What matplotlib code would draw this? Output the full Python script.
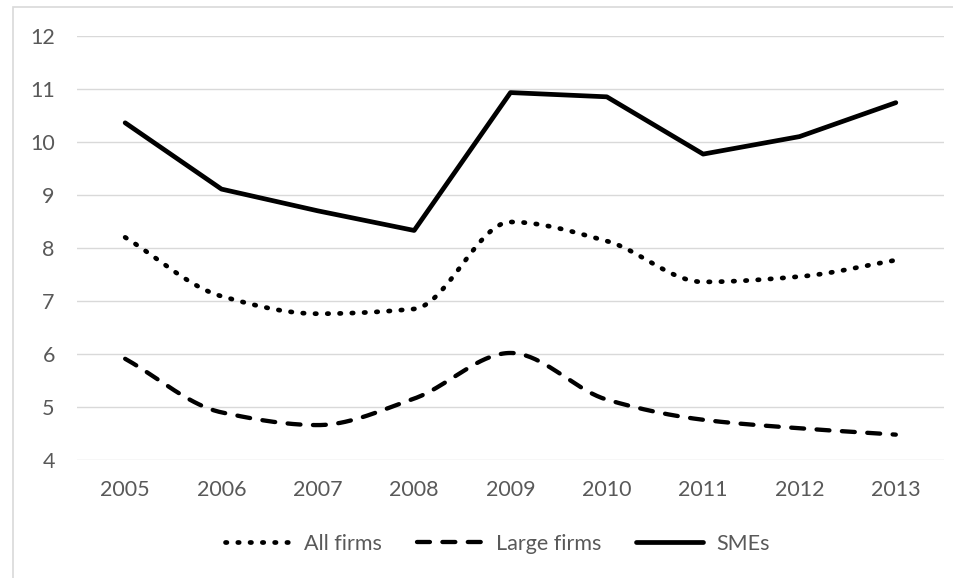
import numpy as np
import matplotlib.pyplot as plt
from matplotlib.patches import Rectangle

years = ['2005', '2006', '2007', '2008', '2009', '2010', '2011', '2012', '2013']
all_firms = [8.20, 7.09, 6.76, 6.85, 8.49, 8.13, 7.36, 7.46, 7.77]
large_firms = [5.91, 4.90, 4.66, 5.16, 6.02, 5.14, 4.76, 4.60, 4.48]
smes = [10.36, 9.11, 8.70, 8.33, 10.93, 10.85, 9.77, 10.10, 10.74]

plt.rcParams['font.family'] = ['Lato', 'DejaVu Sans']
grey = '#595959'


def smooth(y, n=40):
    """Smoothed line through the points (monotone cubic Hermite)."""
    y = np.asarray(y, dtype=float)
    x = np.arange(len(y), dtype=float)
    d = np.diff(y)
    m = np.zeros_like(y)
    for i in range(1, len(y) - 1):
        if d[i - 1] * d[i] > 0:
            m[i] = 2 / (1 / d[i - 1] + 1 / d[i])
    m[0] = d[0]
    m[-1] = d[-1]
    t = np.linspace(0, 1, n)
    xs, ys = [], []
    for i in range(len(y) - 1):
        h00 = 2 * t ** 3 - 3 * t ** 2 + 1
        h10 = t ** 3 - 2 * t ** 2 + t
        h01 = -2 * t ** 3 + 3 * t ** 2
        h11 = t ** 3 - t ** 2
        seg = h00 * y[i] + h10 * m[i] + h01 * y[i + 1] + h11 * m[i + 1]
        xs.append(x[i] + t if i == 0 else (x[i] + t)[1:])
        ys.append(seg if i == 0 else seg[1:])
    return np.concatenate(xs), np.concatenate(ys)


fig = plt.figure(figsize=(9.54, 5.78), dpi=100)
ax = fig.add_axes([0.0807, 0.204, 0.9088, 0.734])

fig.patches.append(Rectangle((13 / 954, -0.1), 1.2, 0.1 + (578 - 7) / 578,
                             transform=fig.transFigure, fill=False,
                             edgecolor='#d9d9d9', linewidth=1.2))

xs, ys = smooth(all_firms)
ax.plot(xs, ys, color='black', linewidth=3.4, linestyle=(0, (0.3, 2.3)),
        dash_capstyle='round', label='All firms')
xs, ys = smooth(large_firms)
ax.plot(xs, ys, color='black', linewidth=3.1, linestyle=(0, (3.0, 2.9)),
        dash_capstyle='round', label='Large firms')
ax.plot(np.arange(len(smes)), smes, color='black', linewidth=3.4,
        solid_capstyle='round', label='SMEs')

ax.set_xlim(-0.5, len(years) - 0.5)
ax.set_ylim(4, 12)
ax.set_xticks(np.arange(len(years)))
ax.set_xticklabels(years)
ax.set_yticks(range(4, 13))
ax.grid(axis='y', color='#d9d9d9', linewidth=1.0)
ax.set_axisbelow(True)
for s in ax.spines.values():
    s.set_visible(False)
ax.tick_params(axis='both', length=0, labelsize=15.5, labelcolor=grey)
ax.tick_params(axis='x', pad=14)
ax.tick_params(axis='y', pad=16)

fig.legend(loc='center', bbox_to_anchor=(497 / 954, 1 - 544 / 578), ncol=3,
           frameon=False, fontsize=15.5, labelcolor=grey, handlelength=3.1,
           handletextpad=0.6, columnspacing=1.6)

fig.savefig('out.png', dpi=100)
